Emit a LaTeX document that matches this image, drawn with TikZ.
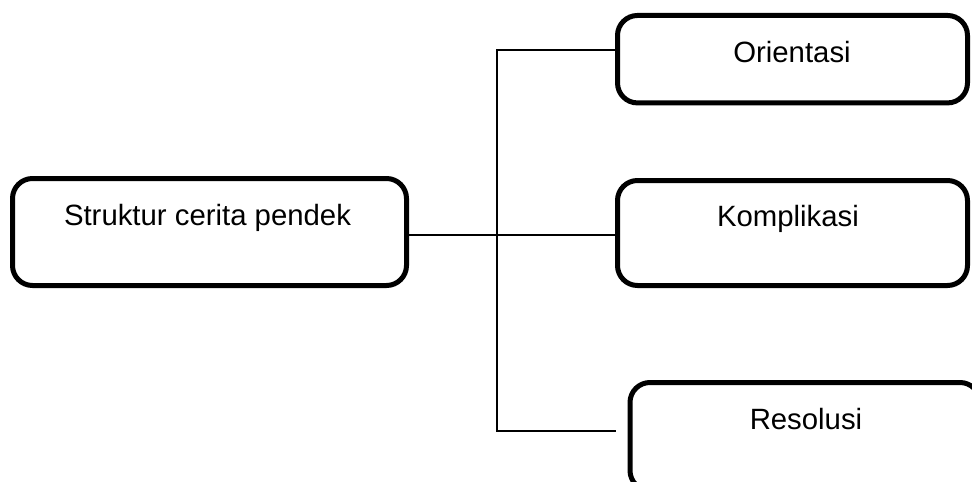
\documentclass[tikz,border=0pt]{standalone}
\usepackage{fontspec}
\setmainfont{Liberation Sans}

\begin{document}
\begin{tikzpicture}[x=0.75pt,y=-0.75pt,
    box/.style={draw, line width=3.75pt, rounded corners=15pt, inner sep=0pt},
    lbl/.style={anchor=base, font=\fontsize{22}{26}\selectfont},
    link/.style={draw, line width=1.5pt}]
    \useasboundingbox (0,0) rectangle (972,482);
    \clip (0,0) rectangle (972,482);
    \node[box, minimum width=295.5pt, minimum height=80.25pt] (struktur) at (209.5,232) {};
    \node[box, minimum width=262.5pt, minimum height=65.6pt] (orientasi) at (792.5,59.2) {};
    \node[box, minimum width=262.5pt, minimum height=78.75pt] (komplikasi) at (792.5,233) {};
    \node[box, minimum width=262.5pt, minimum height=81pt] (resolusi) at (805,436.5) {};
    \node[lbl] (tStruktur) at (207.5,225.7) {Struktur cerita pendek};
    \node[lbl] (tOrientasi) at (792,62.7) {Orientasi};
    \node[lbl] (tKomplikasi) at (788,226.7) {Komplikasi};
    \node[lbl] (tResolusi) at (806,429) {Resolusi};
    \coordinate (top) at (497,50);
    \coordinate (hub) at (497,235);
    \coordinate (bot) at (497,431);
    \coordinate (botend) at (616,431);
    \path[link] (top -| orientasi.west) -- (top) -- (bot) -- (botend);
    \path[link] (struktur.east |- hub) -- (hub -| komplikasi.west);
  \end{tikzpicture}
\end{document}
